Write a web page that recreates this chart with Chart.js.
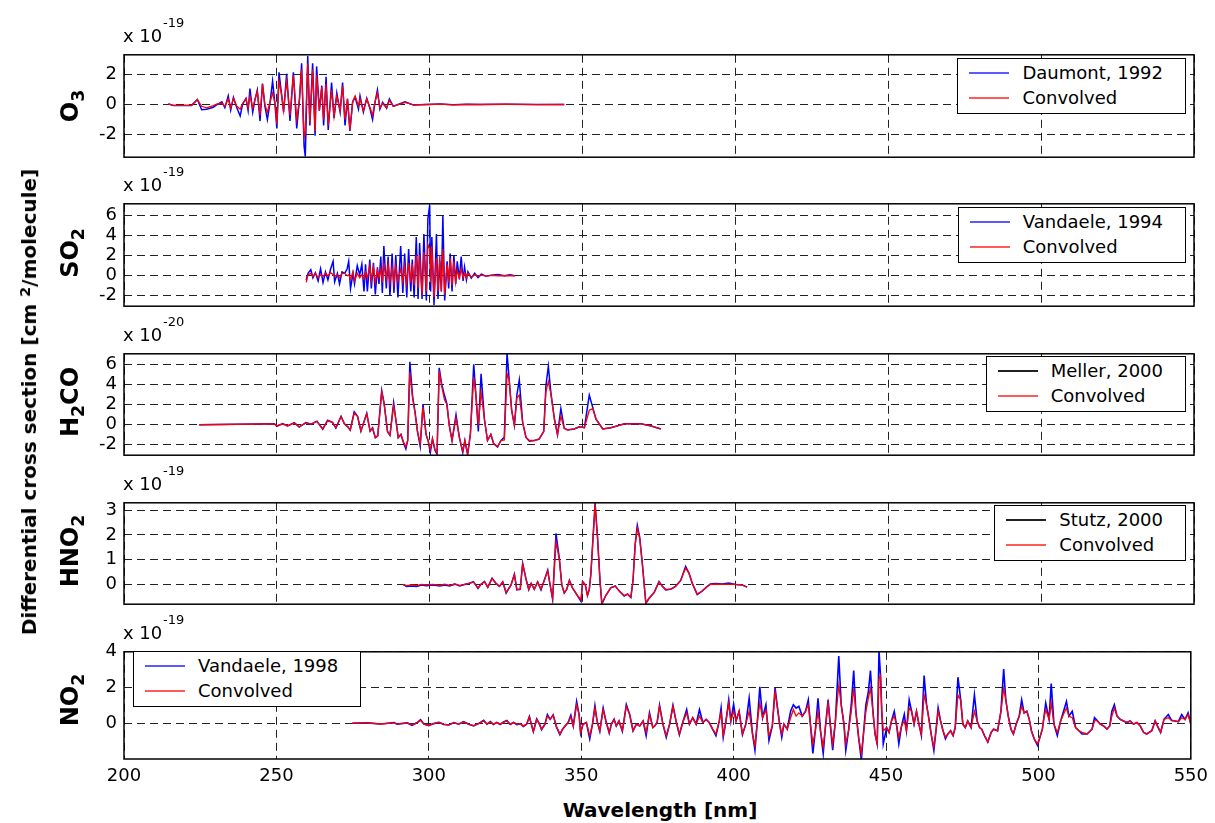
<!DOCTYPE html>
<html><head><meta charset="utf-8">
<script src="https://cdn.jsdelivr.net/npm/chart.js@4.4.1/dist/chart.umd.min.js"></script>
<style>
html,body{margin:0;padding:0;background:#fff;}
body{width:1215px;height:823px;position:relative;overflow:hidden;font-family:'DejaVu Sans',sans-serif;color:#000;}
canvas{position:absolute;left:0;}
.exp{position:absolute;left:123px;font-size:18px;line-height:18px;white-space:nowrap;}
.expsup{position:absolute;left:163px;font-size:13px;line-height:13px;white-space:nowrap;}
.lab{position:absolute;font-weight:bold;white-space:nowrap;transform:translate(-50%,-50%) rotate(-90deg);line-height:1;}
.lab sub{font-size:0.72em;vertical-align:-0.35em;line-height:0;}
.lab sup{font-size:0.72em;vertical-align:0.45em;line-height:0;}
.xl{position:absolute;font-weight:bold;white-space:nowrap;transform:translate(-50%,-50%);line-height:1;font-size:20px;}
.leg{position:absolute;border:1px solid #000;background:#fff;padding:1px 22px 3px 11px;font-size:18px;}
.leg .row{height:25px;line-height:25px;display:flex;align-items:center;white-space:nowrap;}
.leg .ln{width:40px;height:2px;margin-right:13px;}
</style></head>
<body>
<canvas id="c1"></canvas><canvas id="c2"></canvas><canvas id="c3"></canvas><canvas id="c4"></canvas><canvas id="c5"></canvas>

<div class="exp" style="top:27px">x 10</div><div class="expsup" style="top:16px">-19</div>
<div class="exp" style="top:176px">x 10</div><div class="expsup" style="top:165px">-19</div>
<div class="exp" style="top:326px">x 10</div><div class="expsup" style="top:315px">-20</div>
<div class="exp" style="top:475px">x 10</div><div class="expsup" style="top:464px">-19</div>
<div class="exp" style="top:624px">x 10</div><div class="expsup" style="top:613px">-19</div>

<div class="lab" style="left:70px;top:106px;font-size:24px">O<sub>3</sub></div>
<div class="lab" style="left:70px;top:253px;font-size:24px">SO<sub>2</sub></div>
<div class="lab" style="left:70px;top:402px;font-size:24px">H<sub>2</sub>CO</div>
<div class="lab" style="left:70px;top:551px;font-size:24px">HNO<sub>2</sub></div>
<div class="lab" style="left:70px;top:700px;font-size:24px">NO<sub>2</sub></div>
<div class="lab" style="left:29px;top:402px;font-size:20px">Differential cross section [cm <sup>2</sup>/molecule]</div>
<div class="xl" style="left:660px;top:810px">Wavelength [nm]</div>

<div class="leg" style="right:29px;top:58px"><div class="row"><span class="ln" style="background:#5a5aff"></span>Daumont, 1992</div><div class="row"><span class="ln" style="background:#ff5a5a"></span>Convolved</div></div>
<div class="leg" style="right:29px;top:207px"><div class="row"><span class="ln" style="background:#5a5aff"></span>Vandaele, 1994</div><div class="row"><span class="ln" style="background:#ff5a5a"></span>Convolved</div></div>
<div class="leg" style="right:29px;top:356px"><div class="row"><span class="ln" style="background:#222"></span>Meller, 2000</div><div class="row"><span class="ln" style="background:#ff5a5a"></span>Convolved</div></div>
<div class="leg" style="right:29px;top:505px"><div class="row"><span class="ln" style="background:#222"></span>Stutz, 2000</div><div class="row"><span class="ln" style="background:#ff5a5a"></span>Convolved</div></div>
<div class="leg" style="left:133px;top:651px"><div class="row"><span class="ln" style="background:#5a5aff"></span>Vandaele, 1998</div><div class="row"><span class="ln" style="background:#ff5a5a"></span>Convolved</div></div>

<script>
// ---------- Tick labels ----------
const X_TICKS = [200,250,300,350,400,450,500,550];
const O3_TICKS = [-2,0,2];
const SO2_TICKS = [-2,0,2,4,6];
const H2CO_TICKS = [-2,0,2,4,6];
const HNO2_TICKS = [0,1,2,3];
const NO2_TICKS = [0,2,4];

// ---------- O3 (x 1e-19) ----------
const O3_WL = [214.5,216.1,222.1,224.0,225.4,227.0,229.2,230.3,232.0,233.0,
234.1,234.9,235.8,236.9,238.0,238.8,239.9,240.6,241.2,242.1,
242.9,243.6,244.5,245.3,246.1,246.9,247.8,248.6,249.4,250.0,
250.7,251.6,252.2,253.2,254.3,255.4,256.5,257.4,258.1,258.9,
259.3,260.1,260.8,261.7,262.5,263.0,263.9,264.7,265.3,266.1,
266.8,267.9,268.7,269.6,270.7,271.5,272.3,273.1,273.9,274.8,
275.6,276.7,277.2,278.3,279.4,280.5,281.3,282.1,282.9,283.7,
284.6,285.9,286.8,288.1,290.3,291.9,294.7,299.0,303.4,307.7,
312.1,316.5,325.0,335.0,344.0];
const O3_CONV = [0.04,-0.06,-0.06,0.33,-0.12,-0.22,-0.08,0.02,0.08,-0.12,
0.37,-0.22,0.41,-0.12,-0.31,0.08,0.37,-0.22,0.57,-0.22,
0.37,0.86,-0.71,1.35,-0.02,-0.51,0.18,0.76,0.08,-1.29,
1.55,0.57,-0.41,1.55,-0.71,1.94,-1.00,0.37,2.33,-2.18,
-1.78,2.73,-1.20,2.33,-1.78,1.94,-0.41,1.16,-1.00,1.35,
-1.39,0.96,-0.80,0.57,-0.41,1.25,-1.00,0.37,-1.69,0.18,
0.57,-0.12,0.37,-0.41,0.37,-0.22,-0.71,0.18,0.76,-0.22,
0.08,-0.22,0.27,-0.12,0.02,0.14,-0.02,0,0.02,-0.02,
0,0,0.02,-0.01,0];
const O3_DAUMONT = [0.04,-0.06,-0.06,0.33,-0.35,-0.31,-0.18,-0.02,0.18,-0.22,
0.57,-0.37,0.47,-0.22,-0.76,0.02,0.41,-0.41,1.06,-0.51,
0.37,0.96,-1.10,1.39,-0.12,-1.00,0.18,1.55,-0.02,-1.59,
2.14,0.57,-0.51,2.04,-1.10,2.14,-1.59,0.37,2.73,-2.76,
-3.45,3.22,-1.39,2.73,-2.08,2.53,-0.41,1.25,-1.39,1.84,
-1.69,1.45,-0.90,0.76,-0.51,1.45,-1.39,0.37,-1.75,0.18,
0.47,-0.31,0.57,-0.51,0.41,-0.31,-1.00,0.14,0.96,-0.31,
0.14,-0.25,0.37,-0.12,0.06,0.18,-0.04,0,0.04,-0.02,
0.02,0,0.02,0,0];

// ---------- SO2 (x 1e-19) ----------
const SO2_WL = [259.6,260.2,261.1,261.8,262.6,263.5,264.3,265.1,265.9,266.7,
267.6,268.4,268.9,269.8,270.5,271.3,272.2,273.0,273.5,274.1,
274.9,275.4,276.3,277.1,277.8,278.5,279.0,279.6,280.4,280.9,
281.6,282.2,282.9,283.4,284.0,284.5,285.0,285.8,286.4,287.0,
287.7,288.3,288.9,289.6,290.5,291.2,291.8,292.5,293.1,293.8,
294.3,294.9,295.6,296.2,296.7,297.5,298.1,298.9,299.4,300.0,
300.3,300.7,301.4,302.2,302.7,303.3,303.8,304.3,304.9,305.7,
306.2,306.7,307.3,307.9,308.5,309.0,309.7,310.3,310.9,311.4,
312.0,312.5,313.6,314.7,315.8,316.9,318.5,320.2,322.3,324.5,
326.2,327.8];
const SO2_CONV = [-0.67,0.09,0.24,-0.06,0.24,-0.21,0.09,-0.06,0.24,0,
0.30,0.09,-0.06,0.09,-0.21,0.24,0.24,0,0.09,-0.36,
0.39,-0.52,0.24,-0.21,0.09,-0.36,0.39,-0.21,1.00,-0.52,
0.85,-0.67,0.55,-0.21,0.70,-0.67,1.15,-0.36,1.15,-0.67,
0.85,-0.82,1.00,-0.61,0.70,-0.67,1.00,-0.82,1.30,-0.67,
1.15,-0.97,2.06,-1.27,2.06,-1.88,2.36,-1.58,3.12,2.67,
-0.67,2.97,-2.18,1.76,-1.58,2.06,-1.58,2.67,-1.88,1.15,
-0.67,1.76,-0.97,1.45,-0.67,0.55,-0.21,0.70,-0.21,0.30,
-0.21,0.24,-0.12,0.09,-0.06,0.06,-0.03,0.03,0,0,
0,0];
const SO2_VANDAELE = [-0.42,0.24,0.61,-0.21,0.30,-0.52,0.70,-0.67,0.39,-0.42,
0.70,1.45,-0.61,0.24,-0.82,0.39,0.24,0.70,1.45,-1.27,
0.24,-0.82,1.00,0.09,1.15,-1.58,1.15,-1.58,1.61,-1.27,
1.30,-1.88,0.85,-0.82,1.91,-1.73,2.97,-1.27,1.91,-2.03,
2.21,-1.73,2.06,-2.18,2.97,-1.73,2.21,-2.18,2.67,-1.58,
1.61,-2.18,3.88,-2.33,3.27,-2.33,4.18,-2.48,5.70,7.06,
-1.58,3.88,-2.94,4.18,-2.33,1.45,-1.58,6.00,-2.48,1.45,
-1.27,2.21,-1.58,2.06,-0.82,1.45,-0.36,1.91,-0.52,0.85,
-0.42,0.39,-0.24,0.24,-0.18,0.15,-0.06,0.06,0.12,0,
0.09,0];

// ---------- H2CO (x 1e-20) ----------
const H2CO_WL = [224.6,249.2,250.0,251.9,253.5,255.7,257.3,259.5,261.2,263.1,
265.0,266.6,268.2,269.3,271.0,272.1,273.2,274.0,275.3,276.4,
277.5,279.4,280.5,281.3,282.2,283.0,284.3,285.1,286.2,287.0,
288.2,288.9,289.7,290.6,291.4,292.2,292.8,293.5,294.4,295.2,
296.0,296.9,297.8,298.8,299.5,300.2,300.9,301.7,302.4,303.1,
303.9,304.8,305.6,306.4,307.3,308.6,309.7,310.8,311.5,312.4,
313.3,314.4,315.1,315.9,316.8,317.9,318.9,320.0,320.9,322.2,
323.3,324.4,325.3,326.0,326.8,327.7,328.5,329.3,330.4,331.5,
332.6,334.2,335.8,337.3,338.0,338.8,339.7,340.8,341.8,342.9,
344.0,345.1,347.3,348.9,350.6,352.2,353.3,354.4,356.6,359.3,
363.7,369.1,372.4,375.6];
const H2CO_CONV = [0,0.09,-0.12,0.09,-0.12,0.18,-0.21,0.18,0.06,0.33,
-0.42,0.39,0.24,-0.30,0.79,0.09,-0.21,-0.52,1.15,0.85,
-0.61,1.09,-0.61,-0.36,-1.27,-1.12,3.27,2.06,-0.67,-1.03,
1.90,0.55,-1.27,-0.97,-1.73,-2.18,-1.58,5.24,2.67,1.15,
-0.67,-1.88,1.76,-0.97,-1.58,-2.48,-1.42,-2.48,-2.79,5.39,
3.88,2.52,2.06,-0.06,-1.58,0.70,-1.27,-2.64,-1.58,-2.94,
-0.97,4.79,2.97,-0.06,3.27,0.55,-1.58,-0.97,-1.88,-2.18,
-1.58,-1.52,5.09,4.48,1.45,-0.06,2.67,2.97,0.24,-1.27,
-1.58,-1.58,-1.42,-0.67,3.27,4.33,2.97,0.55,-0.97,0.85,
-0.36,-0.52,-0.42,-0.21,-0.30,1.45,1.61,0.55,-0.42,-0.30,
0.09,0.09,-0.12,-0.42];
const H2CO_MELLER = [0,0.09,-0.15,0.12,-0.12,0.21,-0.24,0.21,0.06,0.36,
-0.45,0.45,0.24,-0.33,0.85,0.09,-0.21,-0.55,1.30,0.85,
-0.64,1.15,-0.64,-0.30,-1.30,-1.12,3.42,2.12,-0.70,-1.06,
2.21,0.55,-1.30,-0.97,-1.79,-2.42,-1.58,6.30,2.85,1.30,
-0.70,-2.18,2.06,-0.97,-1.64,-2.79,-1.42,-2.55,-2.94,5.70,
4.09,2.97,2.12,-0.06,-1.58,1.00,-1.27,-2.79,-1.58,-3.00,
-0.97,6.06,3.03,-0.67,5.09,0.55,-1.58,-0.97,-1.88,-2.24,
-1.58,-1.27,7.20,4.48,1.45,-0.06,2.97,4.48,0.24,-1.27,
-1.64,-1.58,-1.45,-0.67,3.88,5.85,3.03,0.55,-1.00,1.61,
-0.36,-0.52,-0.42,-0.21,-0.30,2.97,1.76,0.55,-0.42,-0.30,
0.09,0.09,-0.12,-0.42];

// ---------- HNO2 (x 1e-19) ----------
const HNO2_WL = [291.3,292.4,294.0,295.7,297.3,298.9,301.1,303.3,304.9,306.5,
308.2,309.8,311.4,313.0,314.3,315.8,316.8,317.9,319.0,320.4,
321.7,322.8,323.9,325.0,326.6,327.7,328.5,329.6,330.4,331.5,
332.4,333.2,334.2,335.3,336.4,338.6,339.3,340.2,341.3,342.4,
343.2,344.0,344.8,345.7,346.7,348.4,349.5,350.0,350.9,351.6,
352.2,352.7,353.3,354.1,354.9,355.7,356.3,357.6,359.2,360.7,
362.0,363.6,364.7,365.8,366.5,367.2,367.9,368.7,369.6,370.7,
371.7,373.4,375.0,376.1,377.2,378.8,380.4,382.1,383.7,384.8,
385.9,387.5,389.1,390.8,391.8,393.5,395.7,397.8,400.0,402.2,
403.8];
const HNO2_CONV = [0,-0.05,-0.02,-0.05,0,-0.02,0,-0.04,0.01,-0.04,
0.02,-0.04,0,0.04,0.10,-0.14,0.01,0.10,-0.12,0.24,
0.04,-0.08,0.10,-0.33,-0.02,0.40,-0.20,-0.20,0.82,0.22,
-0.20,0.04,-0.20,0.10,-0.20,0.54,0.04,-0.57,1.72,1.00,
-0.02,-0.33,-0.20,0.16,-0.14,-0.45,-0.63,0.10,-0.02,-0.45,
-0.20,0.40,1.60,3.23,1.84,0.16,-0.75,-0.45,-0.14,-0.08,
-0.27,-0.45,-0.39,-0.51,0.16,1.60,2.27,1.84,0.76,-0.75,
-0.57,-0.33,0.10,-0.08,-0.20,-0.20,-0.08,0.16,0.66,0.46,
0.04,-0.39,-0.27,-0.08,0,0.01,0,0.01,0,-0.02,
-0.11];
const HNO2_STUTZ = [0,-0.08,-0.06,-0.08,-0.02,-0.05,-0.02,-0.06,-0.02,-0.06,
0.01,-0.06,0,0.05,0.11,-0.16,0.01,0.12,-0.12,0.25,
0.04,-0.08,0.10,-0.35,-0.02,0.42,-0.22,-0.20,0.86,0.22,
-0.22,0.04,-0.20,0.10,-0.22,0.58,0.04,-0.60,2.06,1.05,
-0.02,-0.35,-0.20,0.17,-0.14,-0.47,-0.69,0.12,-0.02,-0.45,
-0.20,0.40,1.65,3.29,1.90,0.16,-0.80,-0.45,-0.14,-0.06,
-0.27,-0.47,-0.39,-0.53,0.16,1.62,2.39,1.90,0.78,-0.77,
-0.57,-0.33,0.12,-0.08,-0.22,-0.20,-0.08,0.16,0.73,0.46,
0.04,-0.41,-0.27,-0.08,0.02,0.04,0.02,0.06,0,-0.02,
-0.11];

// ---------- NO2 (x 1e-19) ----------
const NO2_WL = [274.9,279.8,284.2,288.6,289.6,292.9,294.5,296.2,297.3,298.4,
300.0,301.6,303.3,304.9,306.5,308.2,309.8,311.4,313.1,314.7,
316.3,318.0,319.1,320.2,321.2,322.3,323.4,324.5,325.6,326.7,
327.8,328.9,330.0,331.0,332.1,333.0,333.8,334.3,335.4,336.3,
337.0,338.1,338.9,339.8,340.8,341.9,343.0,343.9,344.7,345.7,
346.6,347.4,348.5,349.3,349.8,350.6,351.7,352.8,353.7,354.5,
355.2,356.1,357.2,358.1,359.2,359.9,360.8,361.5,362.4,363.5,
364.8,365.9,367.0,368.1,369.2,370.3,371.3,372.4,373.5,374.1,
374.9,375.7,376.8,377.9,379.0,380.1,381.1,382.2,383.3,384.6,
385.5,386.6,387.7,388.8,389.9,391.0,392.0,393.1,394.2,395.3,
395.9,396.6,397.5,398.4,399.1,400.0,400.8,401.8,402.9,404.0,
405.1,406.2,407.0,407.8,408.6,409.5,410.6,411.6,412.7,413.6,
414.4,415.1,415.8,416.5,417.6,418.7,419.6,420.5,421.4,422.5,
423.6,424.5,425.2,426.0,426.8,427.7,428.5,429.4,430.1,431.0,
431.7,432.5,433.4,434.5,435.3,436.2,436.8,437.7,438.6,439.4,
440.1,441.0,441.9,442.6,443.4,444.2,444.9,445.7,446.4,447.1,
447.7,448.2,448.6,449.1,450.2,451.0,451.8,452.7,453.5,454.2,
455.1,456.0,456.7,457.6,458.4,459.2,460.0,460.8,461.6,462.5,
463.3,464.0,464.9,465.7,466.5,467.1,467.9,468.7,469.5,470.3,
471.2,472.0,472.7,473.6,474.5,475.2,476.0,476.8,477.9,479.0,
479.9,480.7,481.4,482.3,483.4,484.5,485.3,486.6,487.7,488.6,
489.3,490.1,491.0,491.8,492.7,493.7,494.5,495.3,496.2,497.0,
497.7,498.6,499.7,500.5,501.3,501.8,502.4,503.5,504.2,505.1,
506.2,507.3,508.4,509.2,510.0,511.1,512.2,513.3,514.3,516.0,
517.6,518.4,519.2,520.3,521.4,522.5,523.4,524.1,524.9,525.8,
526.8,527.9,529.0,530.1,531.2,532.3,533.4,534.5,535.5,537.2,
538.3,539.3,540.1,541.2,542.6,543.7,544.8,545.9,547.0,548.1,
549.1,550.0];
const NO2_CONV = [0,0.02,-0.04,0.02,-0.05,0.02,-0.09,0.04,0.16,-0.05,
-0.11,-0.02,0.05,-0.05,-0.09,0.02,-0.05,0.07,-0.05,-0.13,
-0.02,0.13,-0.05,0.07,-0.05,0.04,-0.05,0.05,0.13,-0.05,
0.04,-0.05,-0.02,-0.15,-0.05,0.35,-0.15,-0.45,0.22,-0.05,
-0.33,-0.05,0.40,0.22,0.44,-0.20,-0.60,-0.33,-0.15,0.04,
0.35,-0.15,1.04,0.49,-0.51,-0.05,0.04,-0.69,-0.05,0.85,
0.13,-0.42,0.76,0.13,-0.51,-0.05,0.22,-0.15,0.13,-0.42,
0.95,0.49,-0.42,-0.05,-0.15,0.13,-0.51,0.49,-0.24,-0.15,
0.04,0.95,-0.05,-0.69,-0.05,0.95,0.13,-0.60,0.04,0.58,
-0.05,0.31,-0.05,0.40,0.04,0.22,0.04,-0.33,-0.60,0.13,
0.58,-0.69,0.13,1.13,0.13,0.67,0.13,0.67,-0.60,-0.05,
0.67,-0.60,-1.24,0.13,1.13,0.31,0.76,-0.69,-0.15,1.76,
0.85,-0.05,-0.60,-0.05,-0.33,0.31,0.76,0.40,0.58,0.40,
0.67,1.04,-0.05,-1.15,-0.42,0.67,-0.42,-1.33,-0.24,1.13,
-0.05,-1.15,0.13,2.13,1.04,-0.05,-1.15,-0.42,0.67,1.95,
0.67,-0.78,-1.69,-0.60,0.67,1.40,1.95,0.67,-0.60,-1.15,
2.49,2.67,0.67,-0.42,-0.24,-0.51,0.13,0.40,-0.15,-0.78,
-0.15,0.13,-0.42,0.85,0.67,-0.05,0.67,-0.05,-0.60,1.58,
1.04,0.31,-0.69,-1.33,-0.24,0.67,0.13,-0.42,-0.78,-0.60,
-0.42,-0.69,-0.24,1.58,1.31,-0.05,-0.24,0.13,-0.24,0.67,
0.13,-0.24,-0.33,-0.69,-1.05,-0.51,-0.33,-0.42,0.67,1.95,
1.31,0.40,-0.33,-0.60,-0.05,0.40,0.95,0.58,0.67,0.22,
-0.42,-0.87,-1.15,-0.78,-0.33,0.31,0.76,0.22,1.13,-0.05,
-0.51,0.13,0.58,0.85,0.40,0.31,-0.24,-0.42,-0.51,-0.60,
-0.33,0.13,0.16,-0.05,-0.15,-0.33,-0.15,0.40,0.85,0.40,
0.22,0.13,0.04,0.13,-0.05,0.04,-0.15,-0.51,-0.60,-0.42,
0.13,-0.24,-0.51,0.22,0.31,0.16,0.13,0.09,0.31,0.22,
0.49,-0.05];
const NO2_VANDAELE = [0,0.02,-0.04,0.04,-0.05,0.02,-0.11,0.04,0.20,-0.05,
-0.13,-0.02,0.05,-0.07,-0.09,0.04,-0.05,0.09,-0.05,-0.15,
-0.02,0.16,-0.05,0.09,-0.07,0.05,-0.07,0.07,0.15,-0.07,
0.04,-0.07,-0.02,-0.18,-0.05,0.38,-0.15,-0.47,0.24,-0.05,
-0.36,-0.05,0.49,0.22,0.47,-0.22,-0.64,-0.33,-0.15,0.04,
0.45,-0.15,1.22,0.49,-0.55,-0.05,0.04,-0.87,-0.05,0.98,
0.13,-0.45,0.85,0.13,-0.55,-0.05,0.22,-0.15,0.13,-0.45,
1.04,0.49,-0.42,-0.05,-0.15,0.13,-0.69,0.58,-0.24,-0.15,
0.04,1.00,-0.05,-0.78,-0.05,1.00,0.13,-0.64,0.04,0.76,
-0.05,0.31,-0.05,0.76,0.04,0.22,0.04,-0.33,-0.69,0.13,
0.85,-0.78,0.13,1.31,0.13,1.07,0.13,0.67,-0.64,-0.05,
1.40,-0.60,-1.50,0.13,2.04,0.31,1.04,-0.96,-0.15,1.98,
0.85,-0.05,-0.78,-0.05,-0.33,0.67,1.04,0.85,0.95,0.40,
0.67,1.31,-0.05,-1.69,-0.42,1.40,-0.42,-1.69,-0.24,1.31,
-0.05,-1.51,0.13,3.76,1.04,-0.05,-1.51,-0.42,1.04,2.95,
0.67,-0.78,-2.05,-0.60,1.04,1.76,2.95,0.67,-0.60,-1.15,
4.05,2.67,0.67,-1.15,-0.24,-0.51,0.13,0.67,-0.15,-1.15,
-0.15,0.49,-0.42,1.31,0.67,-0.05,0.67,-0.05,-0.69,2.67,
1.04,0.31,-0.69,-1.51,-0.24,0.85,0.13,-0.42,-0.87,-0.60,
-0.42,-0.69,-0.24,2.58,1.31,-0.05,-0.24,0.13,-0.24,1.58,
0.13,-0.24,-0.33,-0.69,-1.05,-0.51,-0.33,-0.42,0.67,3.04,
1.31,0.40,-0.33,-0.60,-0.05,0.40,1.31,0.58,0.67,0.22,
-0.42,-0.87,-1.24,-0.78,-0.33,0.31,1.13,0.22,2.22,-0.05,
-0.69,0.13,0.76,1.22,0.40,0.67,-0.24,-0.42,-0.60,-0.60,
-0.33,0.31,0.16,-0.05,-0.15,-0.33,-0.15,0.67,1.04,0.40,
0.22,0.13,0.04,0.13,-0.05,0.04,-0.15,-0.51,-0.60,-0.42,
0.13,-0.24,-0.51,0.22,0.49,0.16,0.13,0.09,0.49,0.22,
0.58,-0.05];

// ---------- rendering ----------
const FONT = {family:"'DejaVu Sans', sans-serif", size:18};
const PAD = 12;
const frame = {
  id:'frame',
  afterDraw(chart){
    const {ctx, chartArea:a} = chart;
    ctx.save();
    ctx.strokeStyle = '#000';
    ctx.lineWidth = 1.5;
    ctx.setLineDash([]);
    ctx.strokeRect(a.left, a.top, a.right - a.left, a.bottom - a.top);
    ctx.restore();
  }
};
function pts(wl, v){ return wl.map((x,i)=>({x:x, y:v[i]})); }

function panel(id, p){
  const cv = document.getElementById(id);
  const xh = p.showX ? 36 : 0;
  const padB = p.showX ? 0 : PAD;
  const h = (p.bottom - p.top) + PAD + padB + xh;
  cv.width = 1215; cv.height = h;
  cv.style.top = (p.top - PAD) + 'px';
  return new Chart(cv, {
    type:'line',
    data:{datasets:[
      {label:'Convolved', data:pts(p.wl, p.conv), borderColor:'#ff0000', borderWidth:1.3, pointRadius:0, tension:0, order:0},
      {label:p.refLabel, data:pts(p.wl, p.ref), borderColor:'#0000ff', borderWidth:p.refWidth || 1.5, pointRadius:0, tension:0, order:1}
    ]},
    options:{
      responsive:false, animation:false, events:[],
      layout:{autoPadding:false, padding:{left:0, right:21, top:PAD, bottom:padB}},
      plugins:{legend:{display:false}, tooltip:{enabled:false}},
      scales:{
        x:{type:'linear', min:200, max:550,
           afterBuildTicks:s=>{ s.ticks = X_TICKS.map(v=>({value:v})); },
           afterFit:s=>{ s.height = xh; },
           grid:{color:'#222', lineWidth:1, drawTicks:false},
           border:{display:false, dash:[8,5]},
           ticks:{display:!!p.showX, font:FONT, color:'#000', padding:7, maxRotation:0, autoSkip:false}},
        y:{type:'linear', min:p.min, max:p.max,
           afterBuildTicks:s=>{ s.ticks = p.ticks.map(v=>({value:v})); },
           afterFit:s=>{ s.width = 124; },
           grid:{color:'#222', lineWidth:1, drawTicks:false},
           border:{display:false, dash:[8,5]},
           ticks:{font:FONT, color:'#000', padding:7}}
      }
    },
    plugins:[frame]
  });
}

panel('c1', {top:49, bottom:163, min:-3.5, max:3.3, ticks:O3_TICKS, wl:O3_WL, conv:O3_CONV, ref:O3_DAUMONT, refLabel:'Daumont, 1992'});
panel('c2', {top:198, bottom:312, min:-3.05, max:7.2, ticks:SO2_TICKS, wl:SO2_WL, conv:SO2_CONV, ref:SO2_VANDAELE, refLabel:'Vandaele, 1994'});
panel('c3', {top:348, bottom:461, min:-3.05, max:7.1, ticks:H2CO_TICKS, wl:H2CO_WL, conv:H2CO_CONV, ref:H2CO_MELLER, refLabel:'Meller, 2000'});
panel('c4', {top:497, bottom:610, min:-0.8, max:3.3, ticks:HNO2_TICKS, wl:HNO2_WL, conv:HNO2_CONV, ref:HNO2_STUTZ, refLabel:'Stutz, 2000'});
panel('c5', {top:646, bottom:759, min:-2, max:4, ticks:NO2_TICKS, wl:NO2_WL, conv:NO2_CONV, ref:NO2_VANDAELE, refLabel:'Vandaele, 1998', refWidth:1.6, showX:true});
</script>
</body></html>
